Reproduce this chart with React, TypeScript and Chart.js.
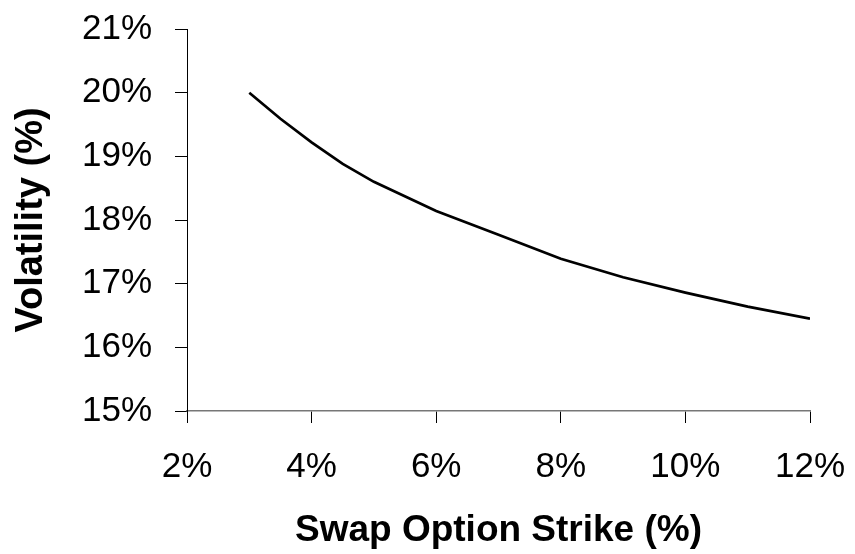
import React, { useEffect, useRef } from "react";
import { Chart, registerables } from "chart.js";

Chart.register(...registerables);

const strikes = [3, 3.5, 4, 4.5, 5, 6, 7, 8, 9, 10, 11, 12];
const volatility = [20.0, 19.59, 19.22, 18.88, 18.6, 18.14, 17.77, 17.39, 17.1, 16.86, 16.64, 16.45];
const xTitle = "Swap Option Strike (%)";
const yTitle = "Volatility (%)";

export default function App() {
  const ref = useRef<HTMLCanvasElement | null>(null);
  useEffect(() => {
    if (!ref.current) return;
    const chart = new Chart(ref.current, {
      type: "line",
      data: {
        datasets: [
          {
            data: strikes.map((s, i) => ({ x: s, y: volatility[i] })),
            borderColor: "#000",
            borderWidth: 2.7,
            pointRadius: 0,
            tension: 0,
            fill: false,
          },
        ],
      },
      options: {
        animation: false,
        responsive: false,
        layout: { padding: { top: 29, right: 45, bottom: 0, left: 0 } },
        plugins: { legend: { display: false }, tooltip: { enabled: false } },
        scales: {
          x: {
            type: "linear",
            min: 2,
            max: 12,
            afterFit: (s: any) => {
              s.height = 143;
              s.paddingLeft = 0;
              s.paddingRight = 0;
            },
            ticks: {
              stepSize: 2,
              padding: 23,
              color: "#000",
              maxRotation: 0,
              font: { family: "Liberation Sans", size: 35 },
              callback: (v: any) => v + "%",
            },
            grid: { drawOnChartArea: false, tickLength: 12, color: "#000", lineWidth: 1 },
            border: { color: "#777", width: 1.5 },
            title: {
              display: true,
              text: xTitle,
              color: "#000",
              font: { family: "Liberation Sans", size: 37, weight: "bold" },
              padding: { top: 0, bottom: 1 },
            },
          },
          y: {
            min: 15,
            max: 21,
            afterFit: (s: any) => {
              s.width = 187;
              s.paddingTop = 0;
              s.paddingBottom = 0;
            },
            ticks: {
              stepSize: 1,
              padding: 23,
              color: "#000",
              font: { family: "Liberation Sans", size: 35 },
              callback: (v: any) => v + "%",
            },
            grid: { drawOnChartArea: false, tickLength: 12, color: "#000", lineWidth: 1 },
            border: { color: "#000", width: 1 },
            title: {
              display: true,
              text: yTitle,
              color: "#000",
              font: { family: "Liberation Sans", size: 38, weight: "bold" },
              padding: { top: 9, bottom: 0 },
            },
          },
        },
      },
    });
    return () => chart.destroy();
  }, []);
  return (
    <div style={{ position: "fixed", left: 0, top: 0, width: 855, height: 554, background: "#fff" }}>
      <canvas ref={ref} width={855} height={554} />
    </div>
  );
}
